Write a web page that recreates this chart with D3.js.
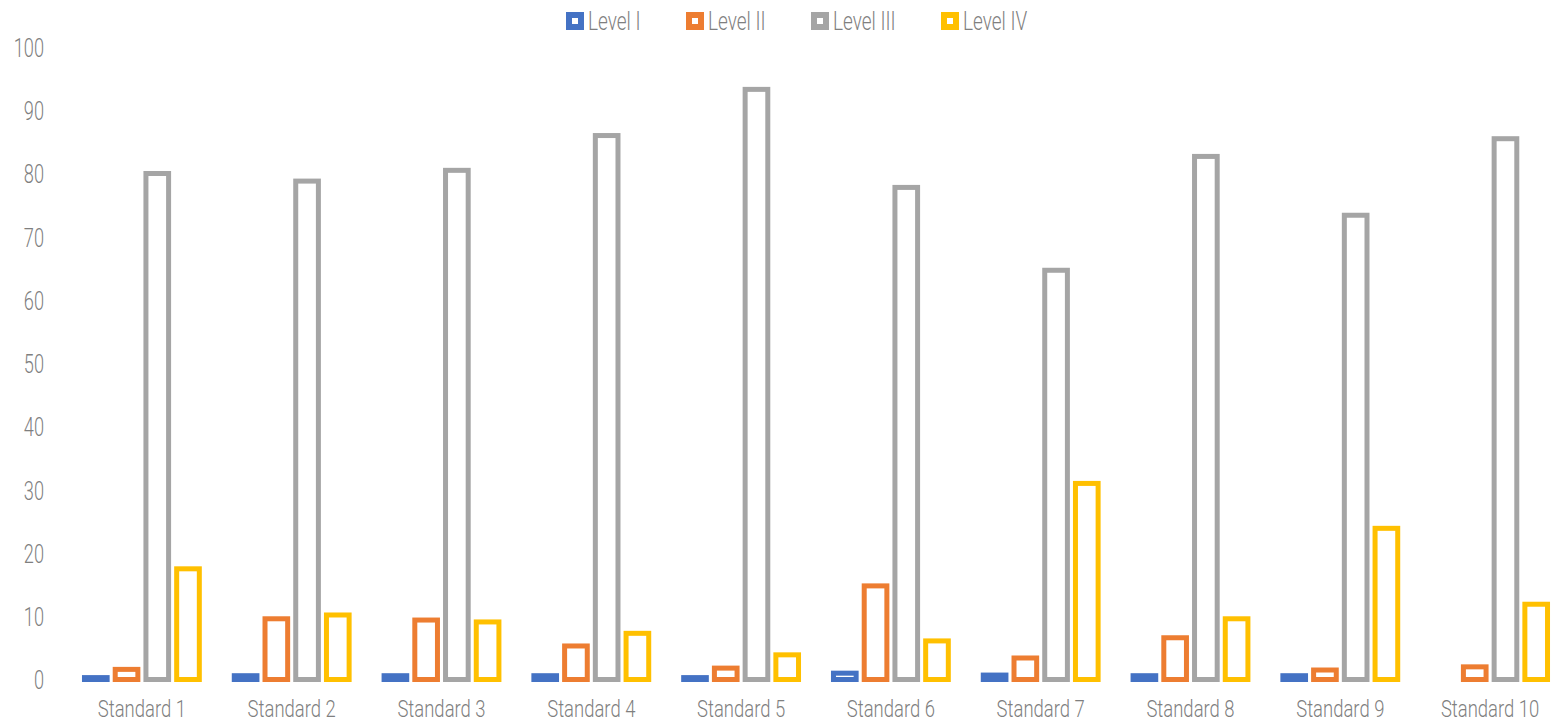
<!DOCTYPE html>
<html>
<head>
<meta charset="utf-8">
<script src="https://cdn.jsdelivr.net/npm/d3@7"></script>
<style>
  body { margin: 0; background: #fff; }
  text { font-family: "Roboto", sans-serif; font-weight: 300; fill: #7f7f7f; }
</style>
</head>
<body>
<div class="chart"></div>
<script>
const categories = ['Standard 1', 'Standard 2', 'Standard 3', 'Standard 4', 'Standard 5',
                    'Standard 6', 'Standard 7', 'Standard 8', 'Standard 9', 'Standard 10'];
const seriesNames = ['Level I', 'Level II', 'Level III', 'Level IV'];
const level1 = [0.3, 0.6, 0.6, 0.6, 0.3, 1.0, 0.7, 0.6, 0.6, 0];
const level2 = [1.6, 9.6, 9.4, 5.3, 1.8, 14.8, 3.4, 6.6, 1.5, 2.0];
const level3 = [80.0, 78.8, 80.5, 86.0, 93.3, 77.8, 64.7, 82.7, 73.4, 85.5];
const level4 = [17.5, 10.2, 9.1, 7.3, 3.9, 6.1, 31.0, 9.6, 23.9, 11.9];
const yTicks = [0, 10, 20, 30, 40, 50, 60, 70, 80, 90, 100];
const colors = ['#4472c4', '#ed7d31', '#a5a5a5', '#ffc000'];

const series = [level1, level2, level3, level4];

const w = 1558, h = 724;
const margin = { top: 47, right: -7, bottom: 44, left: 67 };
const stroke = 5;

const svg = d3.select('.chart').append('svg')
  .attr('width', w).attr('height', h);

const x0 = d3.scaleBand()
  .domain(categories)
  .range([margin.left, w - margin.right])
  .paddingInner(0.2).paddingOuter(0.1);

const x1 = d3.scaleBand()
  .domain(seriesNames)
  .range([0, x0.bandwidth()])
  .paddingInner(0.1);

const y = d3.scaleLinear()
  .domain([0, 100])
  .range([h - margin.bottom - 0.5, margin.top]);

// y axis labels only, squeezed to look condensed
const yAxis = d3.axisLeft(y).tickValues(yTicks).tickSize(0).tickPadding(0);
svg.append('g')
  .attr('transform', `translate(44, 0)`)
  .call(yAxis)
  .call(g => g.select('.domain').remove())
  .selectAll('text')
  .attr('dy', '0.36em')
  .attr('transform', 'scale(0.7, 1)')
  .style('font-size', '26px')
  .style('font-family', 'Roboto')
  .attr('fill', '#7f7f7f');

// x axis labels
const xAxis = d3.axisBottom(x0).tickSize(0).tickPadding(0);
svg.append('g')
  .attr('transform', `translate(0, 717)`)
  .call(xAxis)
  .call(g => g.select('.domain').remove())
  .selectAll('text')
  .attr('dy', 0)
  .attr('transform', 'scale(0.77, 1)')
  .style('font-size', '24px')
  .style('font-family', 'Roboto')
  .attr('fill', '#7f7f7f');

// bars
const groups = svg.selectAll('g.cat')
  .data(categories)
  .enter().append('g')
  .attr('class', 'cat')
  .attr('transform', d => `translate(${x0(d)}, 0)`);

groups.selectAll('rect')
  .data((c, i) => series.map((s, j) => ({ name: seriesNames[j], value: s[i], color: colors[j] })))
  .enter().append('rect')
  .filter(d => d.value > 0)
  .attr('x', d => x1(d.name) + stroke / 2)
  .attr('width', x1.bandwidth() - stroke)
  .attr('y', d => y(d.value))
  .attr('height', d => Math.max(0.5, y(0) - y(d.value)))
  .attr('fill', '#fff')
  .attr('stroke', d => d.color)
  .attr('stroke-width', stroke);

// legend
const legendX = [566, 686, 811, 941];
const legend = svg.selectAll('g.legend')
  .data(seriesNames)
  .enter().append('g')
  .attr('class', 'legend')
  .attr('transform', (d, i) => `translate(${legendX[i]}, 12)`);

legend.append('rect')
  .attr('x', 3).attr('y', 3)
  .attr('width', 12).attr('height', 12)
  .attr('fill', '#fff')
  .attr('stroke', (d, i) => colors[i])
  .attr('stroke-width', 6);

legend.append('g')
  .attr('transform', 'translate(22, 9) scale(0.76, 1)')
  .append('text')
  .attr('dy', '0.36em')
  .style('font-size', '25px')
  .text(d => d);
</script>
</body>
</html>
